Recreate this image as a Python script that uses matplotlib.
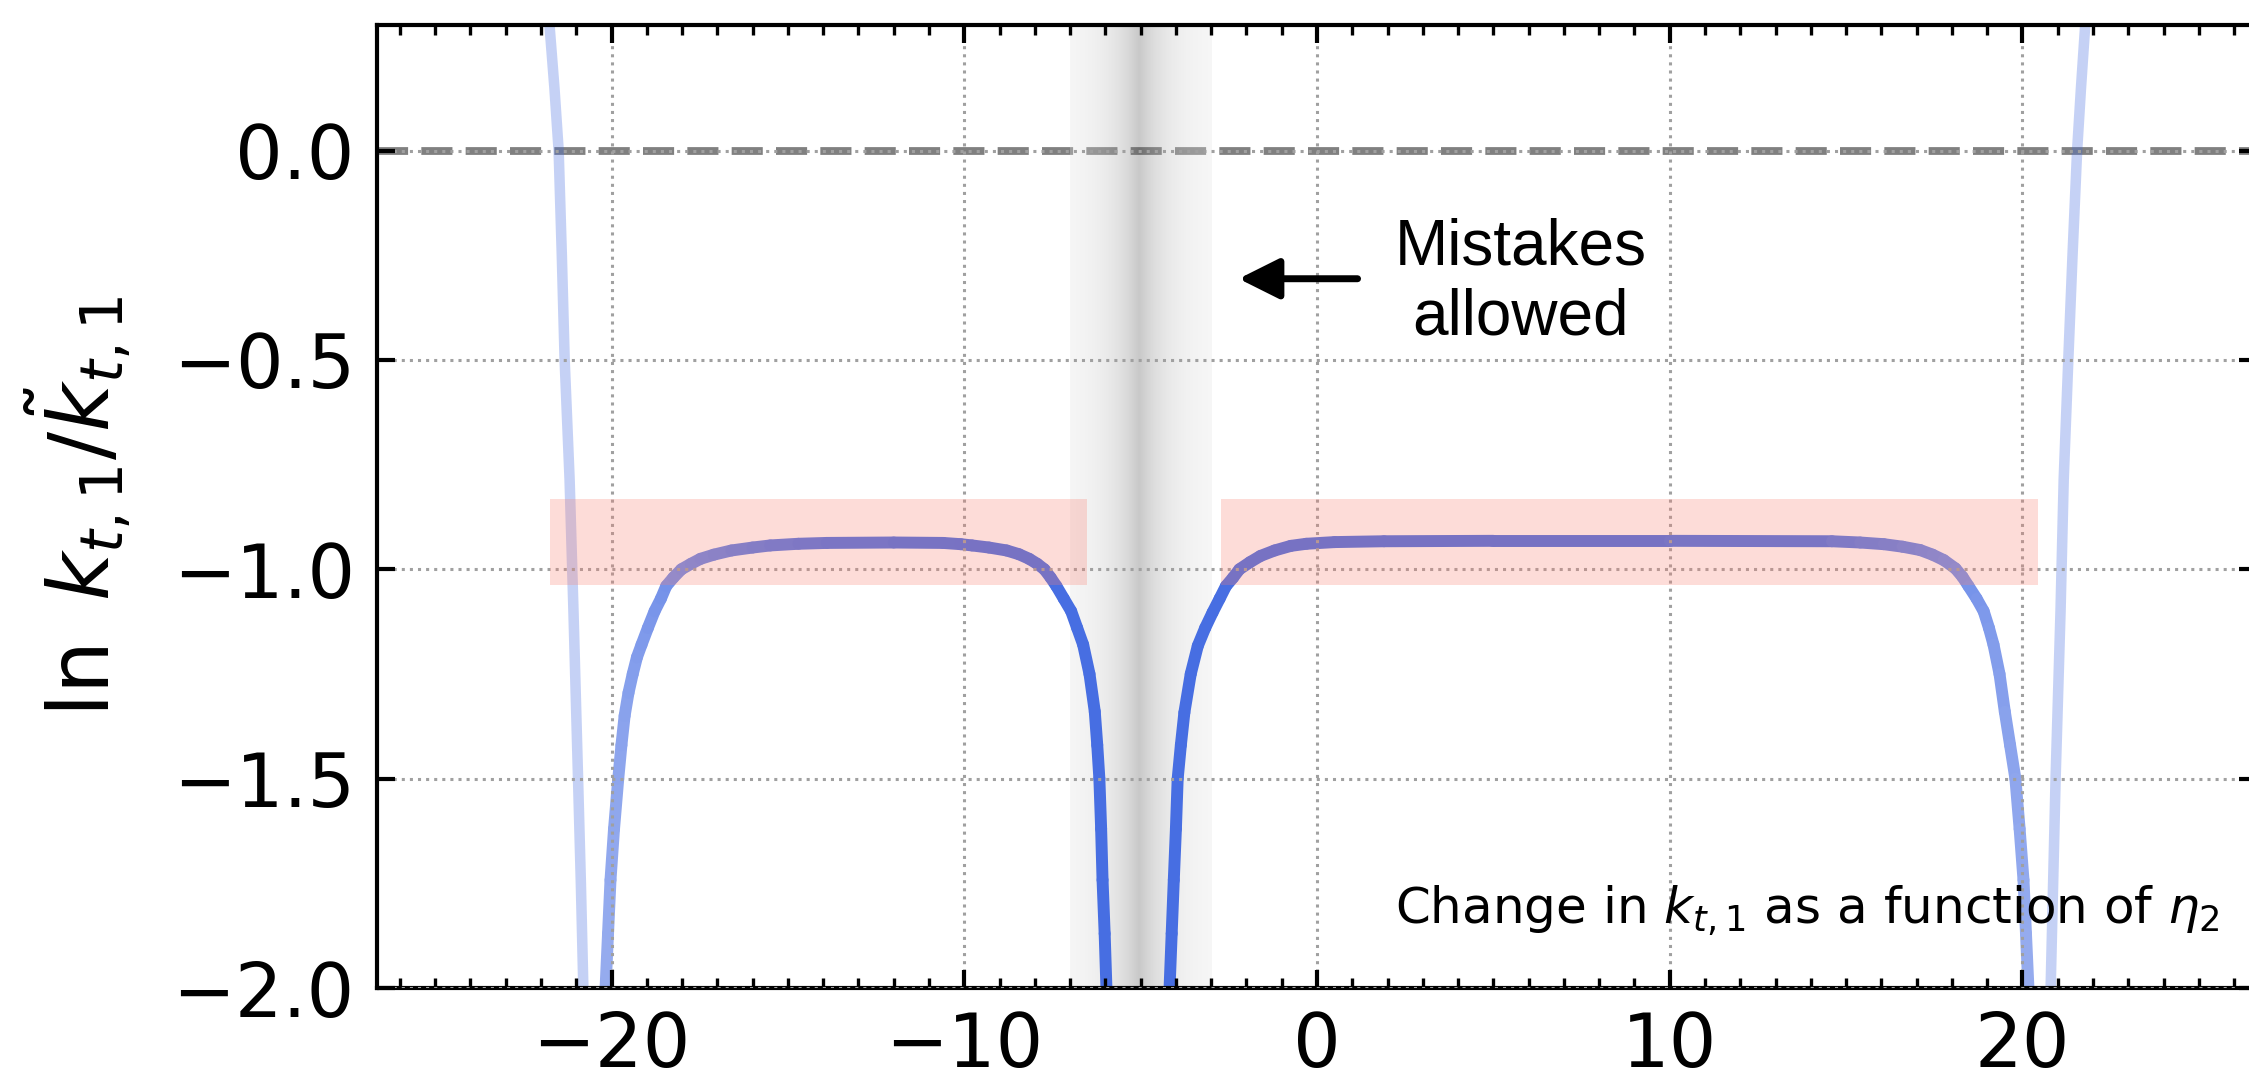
import numpy as np
import matplotlib
matplotlib.use("Agg")
import matplotlib.pyplot as plt
from matplotlib.collections import LineCollection
from matplotlib.ticker import MultipleLocator, NullLocator
from matplotlib.colors import to_rgba

# ---------------- data ----------------
left_x = [-20.17, -20.10, -20.03, -19.93, -19.81, -19.72, -19.63, -19.52, -19.40,
          -19.28, -19.15, -18.97, -18.78, -18.60, -18.45, -18.25, -18.02, -17.75,
          -17.48, -17.10, -16.60, -16.00, -15.50, -14.70, -13.90, -12.00, -10.60,
          -10.10, -9.78, -9.30, -8.80, -8.45, -8.16, -7.93, -7.73, -7.55, -7.39,
          -7.18, -6.97, -6.80, -6.63, -6.45, -6.30, -6.23, -6.17, -6.12, -6.08,
          -6.02, -5.97]
left_y = [-2.00, -1.87, -1.742, -1.62, -1.50, -1.42, -1.35, -1.295, -1.25,
          -1.21, -1.18, -1.14, -1.10, -1.07, -1.04, -1.02, -1.00, -0.987,
          -0.975, -0.965, -0.955, -0.948, -0.943, -0.939, -0.937, -0.936, -0.937,
          -0.940, -0.943, -0.948, -0.955, -0.964, -0.975, -0.987, -1.00, -1.02, -1.04,
          -1.07, -1.10, -1.14, -1.18, -1.25, -1.34, -1.42, -1.50, -1.62, -1.742,
          -1.87, -2.00]

right_x = [-4.18, -4.12, -4.06, -4.00, -3.95, -3.86, -3.76, -3.58, -3.38, -3.17,
           -2.96, -2.76, -2.58, -2.38, -2.20, -1.90, -1.60, -1.20, -0.74, -0.30,
           0.50, 1.90, 5.00, 10.00, 14.60, 15.40, 16.07, 16.60, 17.10, 17.45,
           17.77, 18.10, 18.30, 18.47, 18.70, 18.90, 19.05, 19.18, 19.35, 19.50,
           19.65, 19.80, 19.92, 20.03, 20.10, 20.17]
right_y = [-2.00, -1.87, -1.742, -1.62, -1.50, -1.42, -1.342, -1.25, -1.183, -1.14,
           -1.103, -1.07, -1.04, -1.02, -1.00, -0.983, -0.968, -0.955, -0.944, -0.939,
           -0.935, -0.933, -0.932, -0.932, -0.933, -0.936, -0.940, -0.946, -0.954, -0.965,
           -0.978, -0.998, -1.018, -1.04, -1.07, -1.10, -1.14, -1.18, -1.25, -1.34,
           -1.42, -1.50, -1.62, -1.742, -1.87, -2.00]

faint_left_x = [-21.76, -21.62, -21.50, -21.41, -21.33, -21.19, -21.08, -20.95, -20.87, -20.80]
faint_left_y = [0.30, 0.15, 0.00, -0.25, -0.50, -0.785, -1.10, -1.50, -1.75, -2.00]
faint_right_x = [21.78, 21.66, 21.55, 21.42, 21.30, 21.17, 21.08, 20.94, 20.87, 20.80]
faint_right_y = [0.30, 0.15, 0.00, -0.25, -0.50, -0.785, -1.10, -1.50, -1.75, -2.00]

band_lo, band_mid, band_hi = -7.0, -5.05, -3.0
rect_x_ranges = [(-21.75, -6.51), (-2.71, 20.44)]
rect_y_range = (-1.038, -0.832)
reference_level = 0.0

xticks = [-20, -10, 0, 10, 20]
yticks = [0.0, -0.5, -1.0, -1.5, -2.0]
xlim = (-26.65, 26.65)
ylim = (-2.0, 0.30)

annot_text = "Mistakes\nallowed"
annot_pos = (5.77, -0.315)
arrow_tail = (1.15, -0.306)
arrow_head = (-2.22, -0.306)
note_text = r"Change in $k_{t,1}$ as a function of $\eta_2$"
ylabel_text = r"$\ln\ k_{t,1}/\tilde{k}_{t,1}$"

# ---------------- figure ----------------
fig = plt.figure(figsize=(2249 / 200, 1075 / 200), dpi=200)
ax = fig.add_axes([377 / 2249, 87 / 1075, 1880 / 2249, 963 / 1075])
ax.set_xlim(*xlim)
ax.set_ylim(*ylim)

# zero reference line
ax.axhline(reference_level, color="gray", ls=(0, (4.0, 1.7)), lw=2.8, zorder=1)

# grey gradient band
xs = np.linspace(band_lo, band_hi, 400)
d = np.abs(xs - band_mid)
c = (240 - 168 * np.exp(-d / 0.8)) / 255.0
img = np.zeros((1, len(xs), 4))
img[0, :, 0] = c
img[0, :, 1] = c
img[0, :, 2] = c
img[0, :, 3] = 0.3
ax.imshow(img, extent=(band_lo, band_hi, ylim[0], ylim[1]), aspect="auto",
          interpolation="bilinear", zorder=1.5)
ax.set_xlim(*xlim)
ax.set_ylim(*ylim)

# faint curves
for fx, fy in [(faint_left_x, faint_left_y), (faint_right_x, faint_right_y)]:
    ax.plot(fx, fy, color="royalblue", alpha=0.3, lw=3.8, zorder=1.8,
            solid_capstyle="butt")

# main curve pieces: opaque colours fading towards white at the outer ends
base = np.array(to_rgba("royalblue"))[:3]
white = np.ones(3)
for px, py in [(left_x, left_y), (right_x, right_y)]:
    px = np.asarray(px)
    py = np.asarray(py)
    pts = np.column_stack([px, py])
    segs = np.stack([pts[:-1], pts[1:]], axis=1)
    xm = 0.5 * (px[:-1] + px[1:])
    a = np.clip(0.97 - 0.42 * (np.abs(xm) / 20.2) ** 6, 0.5, 1.0)
    cols = a[:, None] * base[None, :] + (1 - a[:, None]) * white[None, :]
    lc = LineCollection(segs, colors=cols, linewidths=4.3, zorder=2,
                        capstyle="round", joinstyle="round")
    ax.add_collection(lc)

# pink tolerance rectangles
for x0, x1 in rect_x_ranges:
    ax.fill_between([x0, x1], rect_y_range[0], rect_y_range[1],
                    color="salmon", alpha=0.27, lw=0, zorder=3)

# grid
ax.set_axisbelow(False)
ax.grid(True, which="major", ls=":", color="#a0a0a0", lw=1.1)

# annotation
ax.annotate("", xy=arrow_head, xytext=arrow_tail,
            arrowprops=dict(arrowstyle="-|>", color="black", lw=2.5,
                            mutation_scale=31, shrinkA=0, shrinkB=0),
            zorder=5)
ax.text(annot_pos[0], annot_pos[1], annot_text, ha="center", va="center",
        fontsize=23, family="Liberation Sans", linespacing=1.2, zorder=5)
ax.text(0.98, 0.053, note_text, transform=ax.transAxes, ha="right", va="bottom",
        fontsize=18, zorder=5)

# ticks / spines
ax.set_xticks(xticks)
ax.set_yticks(yticks)
ax.xaxis.set_minor_locator(MultipleLocator(1))
ax.yaxis.set_minor_locator(NullLocator())
ax.tick_params(which="both", direction="in", top=True, right=True)
ax.tick_params(which="major", length=6.5, width=1.5, labelsize=27, pad=8)
ax.tick_params(which="minor", length=3.5, width=1.2)
for s in ax.spines.values():
    s.set_linewidth(1.5)

ax.set_ylabel(ylabel_text, fontsize=30)
ax.yaxis.set_label_coords(-0.13, 0.5)

fig.savefig("out.png", dpi=200)
